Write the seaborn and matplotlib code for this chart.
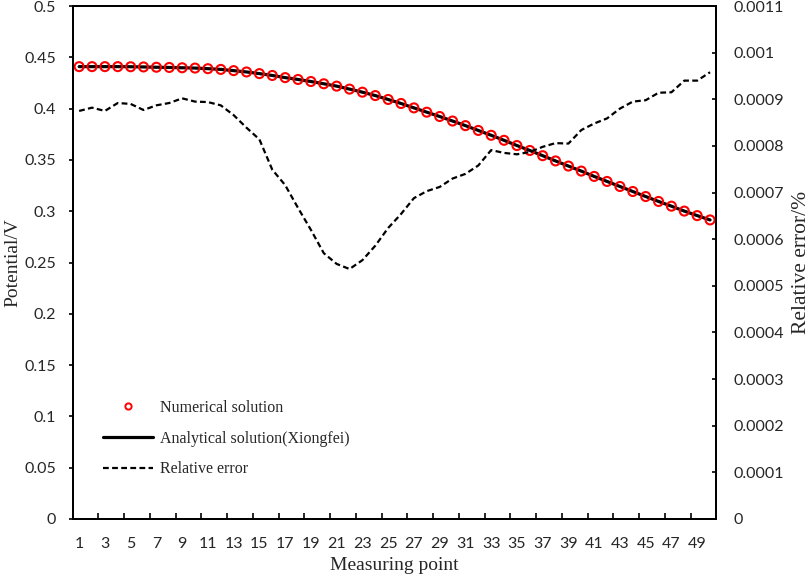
"""Potential along the measuring line: numerical vs analytical solution and relative error."""

import matplotlib
matplotlib.use("Agg")
import matplotlib.pyplot as plt
from matplotlib.lines import Line2D
from matplotlib.ticker import FixedLocator
import seaborn as sns

# Datos
measuring_points = list(range(1, 51))

potential_numerical = [
    0.4409, 0.4409, 0.4409, 0.4409, 0.4408, 0.4406, 0.4403, 0.4401, 0.4398, 0.4395,
    0.4389, 0.4382, 0.4370, 0.4357, 0.4341, 0.4323, 0.4302, 0.4284, 0.4264, 0.4242,
    0.4219, 0.4190, 0.4160, 0.4127, 0.4089, 0.4050, 0.4007, 0.3965, 0.3923, 0.3879,
    0.3834, 0.3787, 0.3740, 0.3691, 0.3640, 0.3592, 0.3541, 0.3490, 0.3440, 0.3391,
    0.3339, 0.3290, 0.3241, 0.3192, 0.3143, 0.3095, 0.3049, 0.3001, 0.2957, 0.2915,
]
potential_analytical = [
    0.4409, 0.4409, 0.4409, 0.4409, 0.4408, 0.4406, 0.4403, 0.4401, 0.4398, 0.4395,
    0.4389, 0.4382, 0.4370, 0.4357, 0.4341, 0.4323, 0.4302, 0.4284, 0.4264, 0.4242,
    0.4219, 0.4190, 0.4160, 0.4127, 0.4089, 0.4050, 0.4007, 0.3965, 0.3923, 0.3879,
    0.3834, 0.3787, 0.3740, 0.3691, 0.3640, 0.3592, 0.3541, 0.3490, 0.3440, 0.3391,
    0.3339, 0.3290, 0.3241, 0.3192, 0.3143, 0.3095, 0.3049, 0.3001, 0.2957, 0.2915,
]
relative_error = [
    0.000875, 0.000882, 0.000875, 0.000892, 0.000890, 0.000877, 0.000887, 0.000892, 0.000902, 0.000895,
    0.000894, 0.000887, 0.000866, 0.000839, 0.000814, 0.000749, 0.000716, 0.000667, 0.000620, 0.000570,
    0.000547, 0.000536, 0.000555, 0.000586, 0.000624, 0.000654, 0.000688, 0.000703, 0.000712, 0.000730,
    0.000740, 0.000758, 0.000791, 0.000785, 0.000782, 0.000787, 0.000798, 0.000806, 0.000805, 0.000834,
    0.000848, 0.000859, 0.000880, 0.000895, 0.000898, 0.000914, 0.000915, 0.000940, 0.000940, 0.000958,
]

x_tick_labels = [str(v) for v in range(1, 50, 2)]
left_ticks = [0, 0.05, 0.1, 0.15, 0.2, 0.25, 0.3, 0.35, 0.4, 0.45, 0.5]
left_tick_labels = ["0", "0.05", "0.1", "0.15", "0.2", "0.25", "0.3", "0.35", "0.4", "0.45", "0.5"]
right_ticks = [i * 0.0001 for i in range(12)]
right_tick_labels = ["0", "0.0001", "0.0002", "0.0003", "0.0004", "0.0005",
                     "0.0006", "0.0007", "0.0008", "0.0009", "0.001", "0.0011"]

# Estilo
sns.set_theme(style="white")
plt.rcParams["font.family"] = ["Lato", "DejaVu Sans"]
SERIF = ["Liberation Serif", "DejaVu Serif"]
TICK_FS = 11.5

W, H = 809, 580
fig = plt.figure(figsize=(W / 100, H / 100), dpi=100)
ax = fig.add_axes([72.7 / W, 1 - 519 / H, (716.5 - 72.7) / W, (519 - 6) / H])
ax2 = ax.twinx()

sns.lineplot(x=measuring_points, y=potential_analytical, ax=ax, color="black",
             linewidth=2.3, zorder=2)
sns.scatterplot(x=measuring_points, y=potential_numerical, ax=ax, marker="o", s=42,
                facecolor="none", edgecolor="#ff0000", linewidth=1.5, zorder=3)
sns.lineplot(x=measuring_points, y=relative_error, ax=ax2, color="black",
             linewidth=1.6, linestyle=(0, (2.6, 1.5)))

# Ejes
ax.set_xlim(0.5, 50.5)
ax.set_ylim(0, 0.5)
ax2.set_ylim(0, 0.0011)

ax.xaxis.set_major_locator(FixedLocator(list(range(1, 50, 2))))
ax.set_xticklabels(x_tick_labels, fontsize=TICK_FS)
ax.xaxis.set_minor_locator(FixedLocator([v + 0.5 for v in range(2, 50, 2)]))
ax.tick_params(axis="x", which="major", length=0, pad=13)
ax.tick_params(axis="x", which="minor", direction="in", length=4.2, width=1.2,
               color="black", bottom=True)

ax.set_yticks(left_ticks)
ax.set_yticklabels(left_tick_labels, fontsize=TICK_FS)
ax.tick_params(axis="y", direction="out", length=3.2, width=1.2, color="black",
               pad=9, left=True)

ax2.set_yticks(right_ticks)
ax2.set_yticklabels(right_tick_labels, fontsize=TICK_FS)
ax2.tick_params(axis="y", direction="in", length=3.2, width=1.2, color="black",
                pad=12, right=True)

for a in (ax, ax2):
    for side in ("left", "right", "top", "bottom"):
        a.spines[side].set_color("black")
        a.spines[side].set_linewidth(1.4)
    a.set_xlabel("")
    a.set_ylabel("")
    a.grid(False)

fig.text(394 / W, 1 - 566 / H, "Measuring point", ha="center", va="center",
         fontsize=14, family=SERIF)
fig.text(13 / W, 1 - 263 / H, "Potential/V", ha="center", va="center",
         rotation=90, fontsize=14, family=SERIF)
fig.text(801 / W, 1 - 262 / H, "Relative error/%", ha="center", va="center",
         rotation=90, fontsize=15.5, family=SERIF)

# Leyenda
handles = [
    Line2D([], [], linestyle="none", marker="o", markersize=4.5, markerfacecolor="none",
           markeredgecolor="#ff0000", markeredgewidth=1.4),
    Line2D([], [], color="black", linewidth=2.3),
    Line2D([], [], color="black", linewidth=1.6, linestyle=(0, (2.6, 1.5))),
]
labels = ["Numerical solution", "Analytical solution(Xiongfei)", "Relative error"]
ax.legend(handles, labels, loc="upper left", bbox_to_anchor=(103 / W, 1 - 400 / H),
          bbox_transform=fig.transFigure, frameon=False, borderpad=0, borderaxespad=0,
          handlelength=3.1, handletextpad=0.45, labelspacing=0.92, numpoints=1,
          prop={"family": SERIF, "size": 11.5})

fig.savefig("out.png", dpi=100)
